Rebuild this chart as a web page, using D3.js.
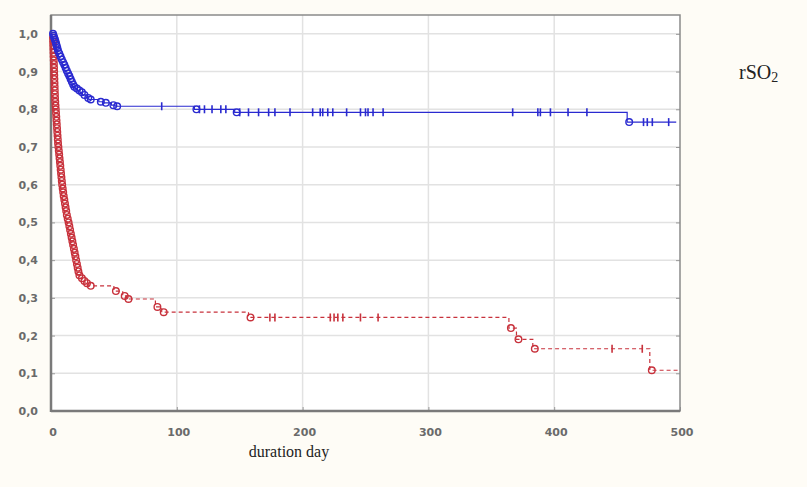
<!DOCTYPE html>
<html>
<head>
<meta charset="utf-8">
<script src="https://cdn.jsdelivr.net/npm/d3@7"></script>
<style>
  body { margin: 0; background: #fefcf6; }
  svg { display: block; }
</style>
</head>
<body>
<svg id="chart" width="807" height="487"></svg>
<script>
// survival step data: [day, cumulative proportion surviving]
var blueEvents = [[0,1.0],[0.5,0.995],[1,0.99],[1.5,0.985],[2,0.98],[2.5,0.974],[3,0.968],[3.5,0.962],
  [4,0.955],[5,0.948],[6,0.94],[7,0.932],[8,0.925],[9,0.918],[10,0.91],[11,0.902],[12,0.895],
  [13,0.888],[14,0.88],[15,0.873],[16,0.866],[17,0.86],[19,0.855],[21,0.85],[23,0.845],[25,0.838],
  [28,0.83],[30,0.826],[38,0.82],[42,0.817],[48,0.811],[51,0.808],[114,0.80],[146,0.792],[458,0.766]];
var blueCensored = [88,118,122,128,135,139,150,157,165,173,178,190,208,214,216,220,224,235,246,250,
  252,256,264,367,387,389,397,411,426,471,474,478,491];
var blueEnd = 497;

var redEvents = [[0,0.99],[0.1,0.98],[0.2,0.97],[0.3,0.96],[0.4,0.95],[0.5,0.94],[0.6,0.93],[0.7,0.92],
  [0.8,0.91],[0.9,0.90],[1.0,0.89],[1.1,0.88],[1.2,0.87],[1.3,0.86],[1.4,0.85],[1.5,0.84],[1.6,0.83],
  [1.8,0.82],[2.0,0.81],[2.2,0.80],[2.4,0.79],[2.6,0.78],[2.8,0.77],[3.0,0.76],[3.2,0.75],[3.4,0.74],
  [3.6,0.73],[3.8,0.72],[4.0,0.71],[4.3,0.70],[4.6,0.69],[4.9,0.68],[5.2,0.67],[5.5,0.66],[5.8,0.65],
  [6.1,0.64],[6.4,0.63],[6.7,0.62],[7.0,0.61],[7.3,0.60],[7.7,0.59],[8.1,0.58],[8.5,0.57],[9.0,0.56],
  [9.5,0.55],[10,0.54],[10.5,0.53],[11,0.52],[11.7,0.51],[12.4,0.50],[13,0.49],[13.6,0.48],[14.2,0.47],
  [14.8,0.46],[15.4,0.45],[16,0.44],[16.6,0.43],[17.2,0.42],[17.8,0.41],[18.4,0.40],[19,0.39],
  [19.6,0.38],[20.2,0.37],[21,0.36],[23,0.352],[25,0.345],[27,0.339],[30,0.332],[50,0.318],
  [57,0.305],[60,0.297],[83,0.276],[88,0.262],[157,0.248],[364,0.22],[370,0.19],[383,0.165],[476,0.108]];
var redCensored = [174,178,222,225,228,232,246,260,446,470];
var redEnd = 500;

var xTicks = [0,100,200,300,400,500];
var yTicks = [0,0.1,0.2,0.3,0.4,0.5,0.6,0.7,0.8,0.9,1.0];

var svg = d3.select("#chart");
var plotLeft = 51, plotRight = 680, plotTop = 15, plotBottom = 411;

var x = d3.scaleLinear().domain([0,500]).range([plotLeft,plotRight]);
var y = d3.scaleLinear().domain([0,1.05]).range([plotBottom,plotTop]);

svg.append("rect")
  .attr("x",plotLeft).attr("y",plotTop)
  .attr("width",plotRight-plotLeft).attr("height",plotBottom-plotTop)
  .attr("fill","white");

// grid
svg.append("g").selectAll("line").data(yTicks.slice(1)).enter()
  .append("line")
  .attr("x1",plotLeft).attr("x2",plotRight)
  .attr("y1",function(d){ return y(d); }).attr("y2",function(d){ return y(d); })
  .attr("stroke","#e2e2e2").attr("stroke-width",1.5);
svg.append("g").selectAll("line").data(xTicks.slice(1,-1)).enter()
  .append("line")
  .attr("y1",plotTop).attr("y2",plotBottom)
  .attr("x1",function(d){ return x(d); }).attr("x2",function(d){ return x(d); })
  .attr("stroke","#e2e2e2").attr("stroke-width",1.5);

// axes
var fmt = function(d){ return d3.format(".1f")(d).replace(".",","); };
var yAxis = svg.append("g").attr("transform","translate("+plotLeft+",0)")
  .call(d3.axisRight(y).tickValues(yTicks).tickSize(4).tickFormat(""));
var yAxisR = svg.append("g").attr("transform","translate("+plotRight+",0)")
  .call(d3.axisLeft(y).tickValues(yTicks).tickSize(4).tickFormat(""));
var xAxis = svg.append("g").attr("transform","translate(0,"+plotBottom+")")
  .call(d3.axisTop(x).tickValues(xTicks).tickSize(4).tickFormat(""));
[yAxis,yAxisR,xAxis].forEach(function(a){
  a.select(".domain").remove();
  a.selectAll("line").attr("stroke","#999");
});

svg.append("rect")
  .attr("x",plotLeft).attr("y",plotTop)
  .attr("width",plotRight-plotLeft).attr("height",plotBottom-plotTop)
  .attr("fill","none").attr("stroke","#8a8a8a").attr("stroke-width",1.5);
svg.append("line").attr("x1",plotLeft).attr("x2",plotLeft).attr("y1",plotTop).attr("y2",plotBottom+1)
  .attr("stroke","#7a7a7a").attr("stroke-width",2.5);
svg.append("line").attr("x1",plotLeft).attr("x2",plotRight).attr("y1",plotBottom).attr("y2",plotBottom)
  .attr("stroke","#7a7a7a").attr("stroke-width",2.5);

svg.append("g").selectAll("text").data(yTicks).enter()
  .append("text")
  .attr("x",38).attr("y",function(d){ return y(d)+4; })
  .attr("text-anchor","end")
  .attr("font-family","DejaVu Sans").attr("font-size",11).attr("font-weight","bold")
  .attr("fill","#6a6a6a")
  .text(fmt);
svg.append("g").selectAll("text").data(xTicks).enter()
  .append("text")
  .attr("x",function(d){ return x(d)+2; }).attr("y",436)
  .attr("text-anchor","middle")
  .attr("font-family","DejaVu Sans").attr("font-size",11).attr("font-weight","bold")
  .attr("fill","#6a6a6a")
  .text(function(d){ return d; });

// curves
function levelAt(events, day){
  var s = 1.0;
  events.forEach(function(e){ if (e[0] <= day) s = e[1]; });
  return s;
}
function drawCurve(events, censored, end, color, dash){
  var pts = [[0,1.0]].concat(events).concat([[end, events[events.length-1][1]]]);
  var line = d3.line()
    .x(function(d){ return x(d[0]); })
    .y(function(d){ return y(d[1]); })
    .curve(d3.curveStepAfter);
  svg.append("path")
    .attr("d",line(pts))
    .attr("fill","none").attr("stroke",color).attr("stroke-width",1.2)
    .attr("stroke-dasharray",dash);
  svg.append("g").selectAll("circle").data(events).enter()
    .append("circle")
    .attr("cx",function(d){ return x(d[0]) + 2; })
    .attr("cy",function(d){ return y(d[1]); })
    .attr("r",3.3)
    .attr("fill","none").attr("stroke",color).attr("stroke-width",1.4);
  svg.append("g").selectAll("line").data(censored).enter()
    .append("line")
    .attr("x1",function(d){ return x(d); }).attr("x2",function(d){ return x(d); })
    .attr("y1",function(d){ return y(levelAt(events,d)) - 4; })
    .attr("y2",function(d){ return y(levelAt(events,d)) + 4; })
    .attr("stroke",color).attr("stroke-width",1.6);
}
drawCurve(redEvents, redCensored, redEnd, "#c8323c", "4,3");
drawCurve(blueEvents, blueCensored, blueEnd, "#2a2ad0", null);

// labels
var lbl = svg.append("text")
  .attr("x",739).attr("y",79)
  .attr("font-family","Liberation Serif").attr("font-size",20).attr("fill","#222");
lbl.append("tspan").text("rSO");
lbl.append("tspan").attr("font-size",14).attr("dy",3).text("2");

svg.append("text")
  .attr("x",289).attr("y",457)
  .attr("text-anchor","middle")
  .attr("font-family","Liberation Serif").attr("font-size",16).attr("fill","#222")
  .text("duration day");
</script>
</body>
</html>
